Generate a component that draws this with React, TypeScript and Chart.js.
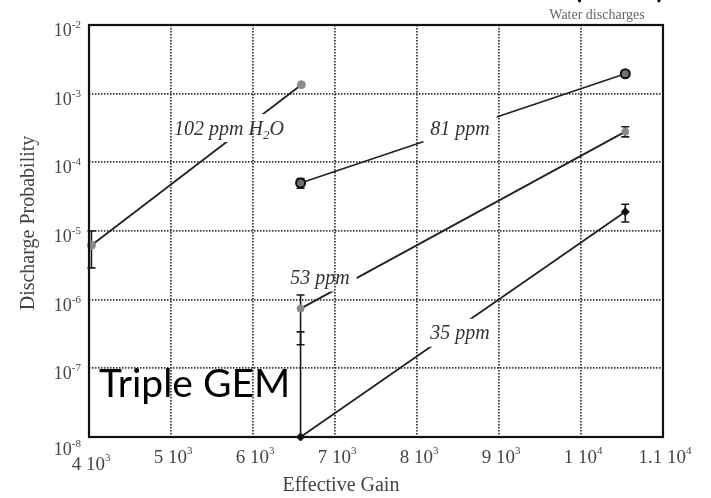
import React, { useEffect, useRef } from 'react';
import { Chart, registerables } from 'chart.js';
Chart.register(...registerables);

// ---- data ----
const gain102 = [4030, 6590];
const prob102 = [6.2e-6, 1.35e-3];
const errLow102: (number | null)[] = [2.9e-6, null];
const errHigh102: (number | null)[] = [1.0e-5, null];

const gain81 = [6580, 10540];
const prob81 = [5.0e-5, 1.95e-3];
const errLow81: (number | null)[] = [4.2e-5, 1.8e-3];
const errHigh81: (number | null)[] = [5.8e-5, 2.15e-3];

const gain53 = [6580, 10540];
const prob53 = [7.4e-7, 2.8e-4];
const errLow53: (number | null)[] = [2.2e-7, 2.35e-4];
const errHigh53: (number | null)[] = [1.17e-6, 3.3e-4];

const gain35 = [6580, 10540];
const prob35 = [1.0e-8, 1.9e-5];
const errLow35: (number | null)[] = [1.0e-8, 1.35e-5];
const errHigh35: (number | null)[] = [3.4e-7, 2.45e-5];

const seriesNames = ['102 ppm H_2O', '81 ppm', '53 ppm', '35 ppm'];
const labelGain = [5707, 8524, 6817, 8524];
const labelProb = [3.16e-4, 3.16e-4, 2.1e-6, 3.3e-7];

const xTicks = [4000, 5000, 6000, 7000, 8000, 9000, 10000, 11000];
const xTickBase = ['4', '5', '6', '7', '8', '9', '1', '1.1'];
const xTickExp = ['3', '3', '3', '3', '3', '3', '4', '4'];
const yTicks = [1e-8, 1e-7, 1e-6, 1e-5, 1e-4, 1e-3, 1e-2];
const yTickExp = ['-8', '-7', '-6', '-5', '-4', '-3', '-2'];

const xTitle = 'Effective Gain';
const yTitle = 'Discharge Probability';
const topNote = 'Water discharges';
const bigNote = 'Triple GEM';

const SERIF = '"Liberation Serif", "Times New Roman", serif';

type Part = { t: string; size: number; dy: number };

function partsWidth(ctx: CanvasRenderingContext2D, parts: Part[], style: string) {
  let w = 0;
  for (const p of parts) {
    ctx.font = `${style} ${p.size}px ${SERIF}`;
    w += ctx.measureText(p.t).width;
  }
  return w;
}

function drawParts(
  ctx: CanvasRenderingContext2D,
  parts: Part[],
  x: number,
  y: number,
  align: 'left' | 'right' | 'center',
  style: string,
  color: string
) {
  const w = partsWidth(ctx, parts, style);
  let cx = align === 'right' ? x - w : align === 'center' ? x - w / 2 : x;
  ctx.fillStyle = color;
  ctx.textAlign = 'left';
  ctx.textBaseline = 'alphabetic';
  for (const p of parts) {
    ctx.font = `${style} ${p.size}px ${SERIF}`;
    ctx.fillText(p.t, cx, y + p.dy);
    cx += ctx.measureText(p.t).width;
  }
}

function nameParts(name: string, size: number): Part[] {
  const out: Part[] = [];
  let buf = '';
  for (let i = 0; i < name.length; i++) {
    if (name[i] === '_' && i + 1 < name.length) {
      if (buf) out.push({ t: buf, size, dy: 0 });
      buf = '';
      out.push({ t: name[i + 1], size: Math.round(size * 0.65), dy: 4 });
      i++;
    } else buf += name[i];
  }
  if (buf) out.push({ t: buf, size, dy: 0 });
  return out;
}

const LABEL_SIZE = 20;

export default function App() {
  const ref = useRef<HTMLCanvasElement>(null);

  useEffect(() => {
    const canvas = ref.current!;
    const series = [
      { gains: gain102, probs: prob102, lo: errLow102, hi: errHigh102, bg: '#8a8a8a', border: '#8a8a8a', bw: 1, style: 'circle', r: 4 },
      { gains: gain81, probs: prob81, lo: errLow81, hi: errHigh81, bg: '#707070', border: '#111', bw: 2, style: 'circle', r: 4.5 },
      { gains: gain53, probs: prob53, lo: errLow53, hi: errHigh53, bg: '#8a8a8a', border: '#8a8a8a', bw: 1, style: 'circle', r: 3.5 },
      { gains: gain35, probs: prob35, lo: errLow35, hi: errHigh35, bg: '#111', border: '#111', bw: 1, style: 'rectRot', r: 4 },
    ];

    const labelBoxes = (chart: any) => {
      const { ctx, scales } = chart;
      return seriesNames.map((n, i) => {
        const parts = nameParts(n, LABEL_SIZE);
        const w = partsWidth(ctx, parts, 'italic');
        const cx = scales.x.getPixelForValue(labelGain[i]);
        const cy = scales.y.getPixelForValue(labelProb[i]);
        const padX = 7, padY = 5;
        return {
          parts, cx, cy, w,
          bx: cx - w / 2 - padX,
          by: cy - LABEL_SIZE * 0.45 - padY,
          bw: w + 2 * padX,
          bh: LABEL_SIZE * 0.9 + 2 * padY,
        };
      });
    };

    const overlay = {
      id: 'overlay',
      beforeDatasetsDraw(chart: any) {
        const { ctx, scales } = chart;
        const xs = scales.x, ys = scales.y;
        ctx.save();
        ctx.strokeStyle = '#1a1a1a';
        ctx.lineWidth = 1.6;
        series.forEach((s) =>
          s.gains.forEach((g, i) => {
            const lo = s.lo[i], hi = s.hi[i];
            if (lo == null || hi == null) return;
            const px = xs.getPixelForValue(g);
            const p1 = ys.getPixelForValue(lo), p2 = ys.getPixelForValue(hi);
            ctx.beginPath();
            ctx.moveTo(px, p1); ctx.lineTo(px, p2);
            ctx.moveTo(px - 4, p1); ctx.lineTo(px + 4, p1);
            ctx.moveTo(px - 4, p2); ctx.lineTo(px + 4, p2);
            ctx.stroke();
          })
        );
        ctx.restore();
        // gaps in the lines where labels sit
        ctx.save();
        ctx.beginPath();
        ctx.rect(0, 0, chart.width, chart.height);
        labelBoxes(chart).forEach((b) => ctx.rect(b.bx, b.by, b.bw, b.bh));
        ctx.clip('evenodd');
      },
      afterDatasetsDraw(chart: any) {
        const { ctx, scales, chartArea } = chart;
        ctx.restore();
        const xs = scales.x, ys = scales.y;
        ctx.save();
        // border box
        ctx.strokeStyle = '#111';
        ctx.lineWidth = 2.2;
        ctx.strokeRect(chartArea.left, chartArea.top, chartArea.right - chartArea.left, chartArea.bottom - chartArea.top);

        // series labels
        labelBoxes(chart).forEach((b) => {
          drawParts(ctx, b.parts, b.cx, b.cy + LABEL_SIZE * 0.33, 'center', 'italic', '#333');
        });

        // y ticks
        yTicks.forEach((v, i) => {
          const py = ys.getPixelForValue(v);
          const off = i === 0 ? 18 : 11;
          drawParts(ctx, [{ t: '10', size: 18, dy: 0 }, { t: yTickExp[i], size: 11, dy: -8 }], 81, py + off, 'right', 'normal', '#444');
        });
        // x ticks
        xTicks.forEach((v, i) => {
          const px = xs.getPixelForValue(v);
          const off = i === 0 ? 470 : 463;
          drawParts(ctx, [{ t: xTickBase[i] + ' 10', size: 19, dy: 0 }, { t: xTickExp[i], size: 11, dy: -9 }], px + 2, off, 'center', 'normal', '#444');
        });

        // axis titles
        drawParts(ctx, [{ t: xTitle, size: 20, dy: 0 }], chartArea.left + (chartArea.right - chartArea.left) * 0.439, 491, 'center', 'normal', '#444');
        ctx.save();
        ctx.translate(34, 223);
        ctx.rotate(-Math.PI / 2);
        drawParts(ctx, [{ t: yTitle, size: 20, dy: 0 }], 0, 0, 'center', 'normal', '#444');
        ctx.restore();

        // notes
        drawParts(ctx, [{ t: topNote, size: 14, dy: 0 }], 597, 19, 'center', 'normal', '#666');
        ctx.fillStyle = '#000';
        ctx.font = '39px Lato, "Open Sans", sans-serif';
        ctx.textAlign = 'left';
        ctx.textBaseline = 'alphabetic';
        ctx.fillText(bigNote, 99, 397);
        ctx.fillText('(', 572, -3);
        ctx.fillText(')', 656, -3);
        ctx.restore();
      },
    };

    const gridOpts = { color: '#3a3a3a', lineWidth: 1.8, drawTicks: false };
    const chart = new Chart(canvas, {
      type: 'scatter',
      data: {
        datasets: series.map((s) => ({
          data: s.gains.map((g, i) => ({ x: g, y: s.probs[i] })),
          showLine: true,
          borderColor: '#222',
          borderWidth: 1.8,
          pointBackgroundColor: s.bg,
          pointBorderColor: s.border,
          pointBorderWidth: s.bw,
          pointRadius: s.r,
          pointStyle: s.style as any,
          clip: false as any,
        })),
      },
      options: {
        animation: false,
        responsive: true,
        maintainAspectRatio: false,
        layout: { padding: { top: 25, right: 48, left: 0, bottom: 0 } },
        plugins: { legend: { display: false }, tooltip: { enabled: false } },
        scales: {
          x: {
            type: 'linear',
            min: 4000,
            max: 11000,
            afterBuildTicks: (scale: any) => {
              scale.ticks = xTicks.map((v) => ({ value: v }));
            },
            afterFit: (scale: any) => {
              scale.height = 61;
            },
            ticks: { display: false },
            grid: gridOpts,
            border: { display: false, dash: [1.5, 1.5] },
          },
          y: {
            type: 'logarithmic',
            min: 1e-8,
            max: 1e-2,
            afterBuildTicks: (scale: any) => {
              scale.ticks = yTicks.map((v) => ({ value: v, major: true }));
            },
            afterFit: (scale: any) => {
              scale.width = 89;
            },
            ticks: { display: false },
            grid: gridOpts,
            border: { display: false, dash: [1.5, 1.5] },
          },
        },
      },
      plugins: [overlay],
    });
    return () => chart.destroy();
  }, []);

  return (
    <div style={{ position: 'absolute', left: 0, top: 0, width: 711, height: 498, background: '#fff' }}>
      <canvas ref={ref} />
    </div>
  );
}
